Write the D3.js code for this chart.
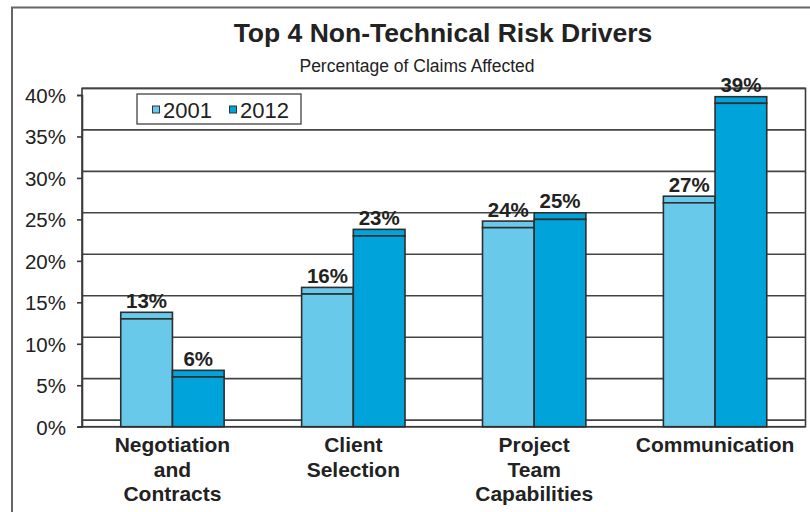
<!DOCTYPE html>
<html>
<head>
<meta charset="utf-8">
<script src="https://cdn.jsdelivr.net/npm/d3@7/dist/d3.min.js"></script>
<style>
  html, body { margin: 0; padding: 0; background: #fff; }
  svg { display: block; font-family: "Liberation Sans", Arial, Helvetica, sans-serif; }
</style>
</head>
<body>
<svg id="chart" width="810" height="512"></svg>
<script>
// Chart data
const categories = ["Negotiation and Contracts", "Client Selection", "Project Team Capabilities", "Communication"];
const categoryLines = [["Negotiation", "and", "Contracts"], ["Client", "Selection"], ["Project", "Team", "Capabilities"], ["Communication"]];
const seriesNames = ["2001", "2012"];
const values2001 = [13, 16, 24, 27];
const values2012 = [6, 23, 25, 39];
const yTicks = [0, 5, 10, 15, 20, 25, 30, 35, 40];

const colors = { "2001": "#68c9eb", "2012": "#00a4da" };
const ink = "#222";
const depth = 6.6; // height of the top face of each column

const svg = d3.select("#chart");

// Outer frame (left and top edges)
svg.append("path")
  .attr("d", "M12,512 L12,7.5 L810,7.5")
  .attr("fill", "none").attr("stroke", "#666").attr("stroke-width", 2);

// Scales
const left = 82, right = 805.5;
const y = d3.scaleLinear().domain([0, 40]).range([426.7, 95]);
const x = d3.scaleBand().domain(categories).range([left, right]).paddingInner(0.4285).paddingOuter(0.21425);
const xs = d3.scaleBand().domain(seriesNames).range([0, x.bandwidth()]);

// Back wall
svg.append("rect")
  .attr("x", left).attr("y", y(40) - depth)
  .attr("width", right - left).attr("height", y(0) - y(40) + depth)
  .attr("fill", "#fff").attr("stroke", "#3a3a3a").attr("stroke-width", 1.6);

// Gridlines on the back wall
svg.append("g").selectAll("line").data(yTicks).join("line")
  .attr("x1", left).attr("x2", right)
  .attr("y1", d => y(d) - depth).attr("y2", d => y(d) - depth)
  .attr("stroke", "#444").attr("stroke-width", 1.6);

// Value axis with ticks on the front edge
const yAxis = d3.axisLeft(y).tickValues(yTicks).tickSize(5).tickPadding(11).tickFormat(d => d + "%");
const gy = svg.append("g").attr("transform", `translate(${left},0)`).call(yAxis);
gy.select(".domain").attr("stroke", "#3a3a3a").attr("stroke-width", 1.6);
gy.selectAll(".tick line").attr("stroke", "#3a3a3a").attr("stroke-width", 1.6);
gy.selectAll(".tick text")
  .attr("fill", ink).attr("font-size", 20.5).attr("dy", "0.36em");

// Front edge of the floor
svg.append("line")
  .attr("x1", left - 4).attr("x2", right)
  .attr("y1", y(0)).attr("y2", y(0))
  .attr("stroke", "#3a3a3a").attr("stroke-width", 1.6);

// Columns
const rows = categories.map((c, i) => ({ cat: c, values: [
  { series: "2001", v: values2001[i] },
  { series: "2012", v: values2012[i] }
]}));

const groups = svg.append("g").selectAll("g").data(rows).join("g")
  .attr("transform", d => `translate(${x(d.cat)},0)`);

const bars = groups.selectAll("g").data(d => d.values).join("g");

// top face
bars.append("rect")
  .attr("x", d => xs(d.series)).attr("width", xs.bandwidth())
  .attr("y", d => y(d.v) - depth).attr("height", depth)
  .attr("fill", d => colors[d.series]).attr("stroke", "#2e2e2e").attr("stroke-width", 1.6);
// front face
bars.append("rect")
  .attr("x", d => xs(d.series)).attr("width", xs.bandwidth())
  .attr("y", d => y(d.v)).attr("height", d => y(0) - y(d.v))
  .attr("fill", d => colors[d.series]).attr("stroke", "#2e2e2e").attr("stroke-width", 1.6);

// value labels
bars.append("text")
  .attr("x", d => xs(d.series) + xs.bandwidth() / 2)
  .attr("y", d => y(d.v) - depth - 4.5)
  .attr("text-anchor", "middle")
  .attr("font-size", 20.5).attr("font-weight", "bold").attr("fill", ink)
  .text(d => d.v + "%");

// Category labels
const cl = svg.append("g").selectAll("text").data(categories).join("text")
  .attr("text-anchor", "middle")
  .attr("font-size", 21).attr("font-weight", "bold").attr("fill", ink)
  .attr("transform", d => `translate(${x(d) + x.bandwidth() / 2},452)`);
cl.selectAll("tspan").data((d, i) => categoryLines[i]).join("tspan")
  .attr("x", 0).attr("dy", (d, i) => i === 0 ? 0 : 24.5)
  .text(d => d);

// Title and subtitle
svg.append("text")
  .attr("x", 443).attr("y", 42)
  .attr("text-anchor", "middle").attr("font-size", 26.5).attr("font-weight", "bold").attr("fill", ink)
  .text("Top 4 Non-Technical Risk Drivers");
svg.append("text")
  .attr("x", 417).attr("y", 72)
  .attr("text-anchor", "middle").attr("font-size", 17.5).attr("fill", ink)
  .text("Percentage of Claims Affected");

// Legend
const legend = svg.append("g");
legend.append("rect")
  .attr("x", 137).attr("y", 94).attr("width", 164).attr("height", 30)
  .attr("fill", "#fff").attr("stroke", "#333").attr("stroke-width", 1.2);
const legendX = [152.5, 229.5];
const li = legend.selectAll("g").data(seriesNames).join("g")
  .attr("transform", (d, i) => `translate(${legendX[i]},0)`);
li.append("rect")
  .attr("x", 0).attr("y", 106).attr("width", 7).attr("height", 7)
  .attr("fill", d => colors[d]).attr("stroke", "#333").attr("stroke-width", 1);
li.append("text")
  .attr("x", 10.5).attr("y", 117.5).attr("font-size", 22).attr("fill", ink)
  .text(d => d);
</script>
</body>
</html>
